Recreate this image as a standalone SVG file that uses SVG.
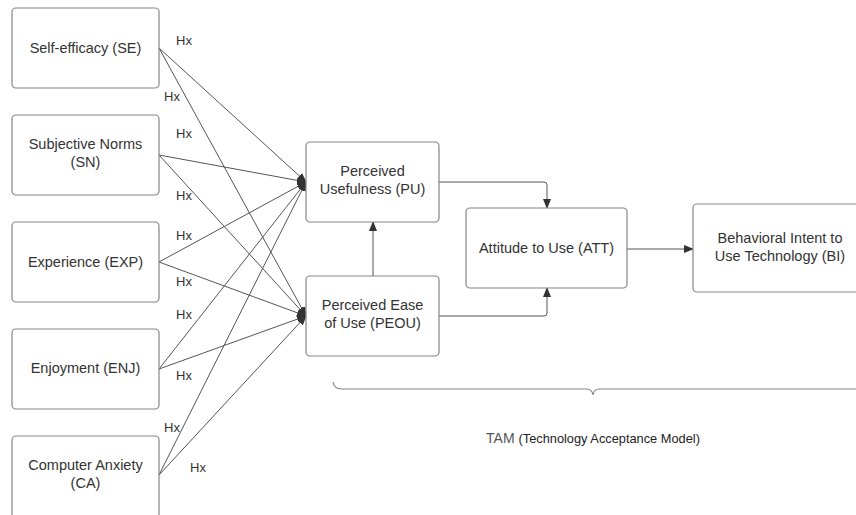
<svg xmlns="http://www.w3.org/2000/svg" width="856" height="515" viewBox="0 0 856 515">
<style>
.box{fill:#fff;stroke:#85858a;stroke-width:1.2}
.t{font-family:"Liberation Sans",Arial,sans-serif;font-size:14.5px;fill:#333;text-anchor:middle;dominant-baseline:central}
.h{font-family:"Liberation Sans",Arial,sans-serif;font-size:13px;fill:#333;dominant-baseline:central}
.c{fill:none;stroke:#555;stroke-width:1}
</style>
<defs>
<marker id="ah" markerWidth="10" markerHeight="8" refX="9" refY="4" orient="auto" markerUnits="userSpaceOnUse">
<path d="M0,0 L10,4 L0,8 Z" fill="#333"/>
</marker>
</defs>
<rect width="856" height="515" fill="#fff"/>
<g id="connectors">
<path class="c" d="M159,48 L306,182" marker-end="url(#ah)"/>
<path class="c" d="M159,48 L306,316" marker-end="url(#ah)"/>
<path class="c" d="M159,155 L306,182" marker-end="url(#ah)"/>
<path class="c" d="M159,155 L306,316" marker-end="url(#ah)"/>
<path class="c" d="M159,262 L306,182" marker-end="url(#ah)"/>
<path class="c" d="M159,262 L306,316" marker-end="url(#ah)"/>
<path class="c" d="M159,369 L306,182" marker-end="url(#ah)"/>
<path class="c" d="M159,369 L306,316" marker-end="url(#ah)"/>
<path class="c" d="M159,475 L306,182" marker-end="url(#ah)"/>
<path class="c" d="M159,475 L306,316" marker-end="url(#ah)"/>
<path class="c" d="M373,276 L373,222" marker-end="url(#ah)"/>
<path class="c" d="M439,182 L544,182 Q547,182 547,185 L547,208" marker-end="url(#ah)"/>
<path class="c" d="M439,316 L544,316 Q547,316 547,313 L547,288" marker-end="url(#ah)"/>
<path class="c" d="M627,249 L693,249" marker-end="url(#ah)"/>
</g>
<g id="labels">
<text class="h" x="176" y="40">Hx</text>
<text class="h" x="164" y="96">Hx</text>
<text class="h" x="176" y="133">Hx</text>
<text class="h" x="176" y="195">Hx</text>
<text class="h" x="176" y="235">Hx</text>
<text class="h" x="176" y="281">Hx</text>
<text class="h" x="176" y="314">Hx</text>
<text class="h" x="176" y="375">Hx</text>
<text class="h" x="164" y="427">Hx</text>
<text class="h" x="190" y="467">Hx</text>
</g>
<g id="SE"><rect class="box" x="12" y="8" width="147" height="80" rx="4"/><text class="t" x="85.5" y="48">Self-efficacy (SE)</text></g>
<g id="SN"><rect class="box" x="12" y="115" width="147" height="80" rx="4"/><text class="t" x="85.5" y="144">Subjective Norms</text><text class="t" x="85.5" y="162">(SN)</text></g>
<g id="EXP"><rect class="box" x="12" y="222" width="147" height="80" rx="4"/><text class="t" x="85.5" y="262">Experience (EXP)</text></g>
<g id="ENJ"><rect class="box" x="12" y="329" width="147" height="80" rx="4"/><text class="t" x="85.5" y="368">Enjoyment (ENJ)</text></g>
<g id="CA"><rect class="box" x="12" y="436" width="147" height="82" rx="4"/><text class="t" x="85.5" y="465">Computer Anxiety</text><text class="t" x="85.5" y="483">(CA)</text></g>
<g id="PU"><rect class="box" x="306" y="142" width="133" height="80" rx="4"/><text class="t" x="372.5" y="171">Perceived</text><text class="t" x="372.5" y="189">Usefulness (PU)</text></g>
<g id="PEOU"><rect class="box" x="306" y="276" width="133" height="80" rx="4"/><text class="t" x="372.5" y="305">Perceived Ease</text><text class="t" x="372.5" y="323">of Use (PEOU)</text></g>
<g id="ATT"><rect class="box" x="466" y="208" width="161" height="80" rx="4"/><text class="t" x="546.5" y="248">Attitude to Use (ATT)</text></g>
<g id="BI"><rect class="box" x="693" y="204" width="180" height="88" rx="4"/><text class="t" x="780" y="238">Behavioral Intent to</text><text class="t" x="780" y="256">Use Technology (BI)</text></g>
<g id="TAM">
<path d="M333,382 Q334,389 342,389 L587,389 Q592,389 593,395 Q594,389 599,389 L856,389" fill="none" stroke="#85858a" stroke-width="1.2"/>
<text x="593" y="438" text-anchor="middle" dominant-baseline="central" font-family="Liberation Sans,Arial,sans-serif"><tspan fill="#555" font-size="14">TAM </tspan><tspan fill="#222" font-size="12.8">(Technology Acceptance Model)</tspan></text>
</g>
</svg>
